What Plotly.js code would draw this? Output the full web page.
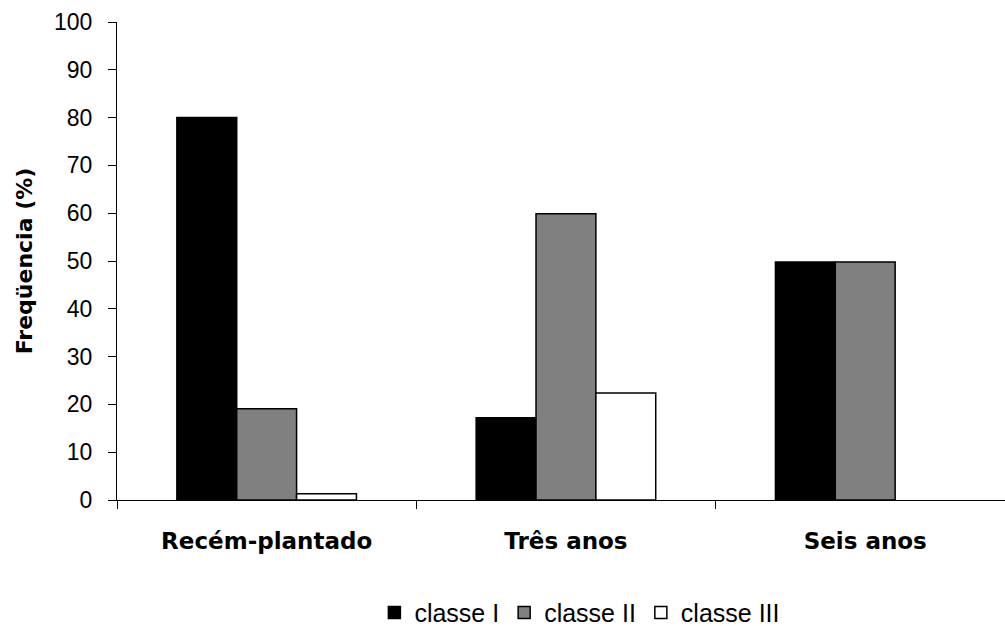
<!DOCTYPE html>
<html>
<head>
<meta charset="utf-8">
<script src="https://cdn.plot.ly/plotly-3.0.1.min.js"></script>
<style>html,body{margin:0;padding:0;background:#fff;}#chart{width:1005px;height:626px;}</style>
</head>
<body>
<div id="chart"></div>
<script>
var categories = ["Recém-plantado", "Três anos", "Seis anos"];
var seriesNames = ["classe I", "classe II", "classe III"];
var classeI = [80, 17.2, 49.8];
var classeII = [19.1, 59.9, 49.8];
var classeIII = [1.3, 22.4, 0];
var yTicks = [0, 10, 20, 30, 40, 50, 60, 70, 80, 90, 100];
var colors = ["#000000", "#808080", "#ffffff"];

var values = [classeI, classeII, classeIII];
var traces = values.map(function (v, i) {
  return {
    type: "bar",
    name: seriesNames[i],
    x: categories,
    y: v,
    marker: {
      color: colors[i],
      line: { color: "#000000", width: v.map(function (d) { return d > 0 ? 1.5 : 0; }) }
    },
    hoverinfo: "x+y+name"
  };
});

var layout = {
  width: 1005,
  height: 626,
  paper_bgcolor: "#ffffff",
  plot_bgcolor: "#ffffff",
  margin: { l: 117, r: 0, t: 22, b: 125.5, pad: 0, autoexpand: false },
  barmode: "group",
  bargap: 0.4,
  bargroupgap: 0,
  showlegend: true,
  legend: {
    orientation: "h",
    xref: "container",
    yref: "container",
    x: 0.577,
    xanchor: "center",
    y: 0.021,
    yanchor: "middle",
    font: { family: "Liberation Sans, Arial, sans-serif", size: 25, color: "#000" },
    traceorder: "normal"
  },
  xaxis: {
    type: "category",
    range: [-0.5, 2.467],
    showline: true,
    linecolor: "#000",
    linewidth: 1,
    ticks: "outside",
    tickson: "boundaries",
    ticklen: 8,
    tickcolor: "#000",
    tickwidth: 1,
    showgrid: false,
    zeroline: false,
    automargin: false,
    ticklabelstandoff: 20,
    tickfont: { family: "DejaVu Sans, sans-serif", size: 23, color: "#000", weight: "bold" }
  },
  yaxis: {
    range: [0, 100],
    tickvals: yTicks,
    ticktext: yTicks.map(String),
    showline: true,
    linecolor: "#000",
    linewidth: 1,
    ticks: "outside",
    ticklen: 8,
    tickcolor: "#000",
    tickwidth: 1,
    showgrid: false,
    zeroline: false,
    automargin: false,
    ticklabelstandoff: 11,
    tickfont: { family: "Liberation Sans, Arial, sans-serif", size: 23, color: "#000" },
    title: {
      text: "Freqüencia (%)",
      standoff: 15,
      font: { family: "DejaVu Sans, sans-serif", size: 22, color: "#000", weight: "bold" }
    }
  }
};

Plotly.newPlot("chart", traces, layout, { displayModeBar: false, staticPlot: false });
</script>
</body>
</html>
